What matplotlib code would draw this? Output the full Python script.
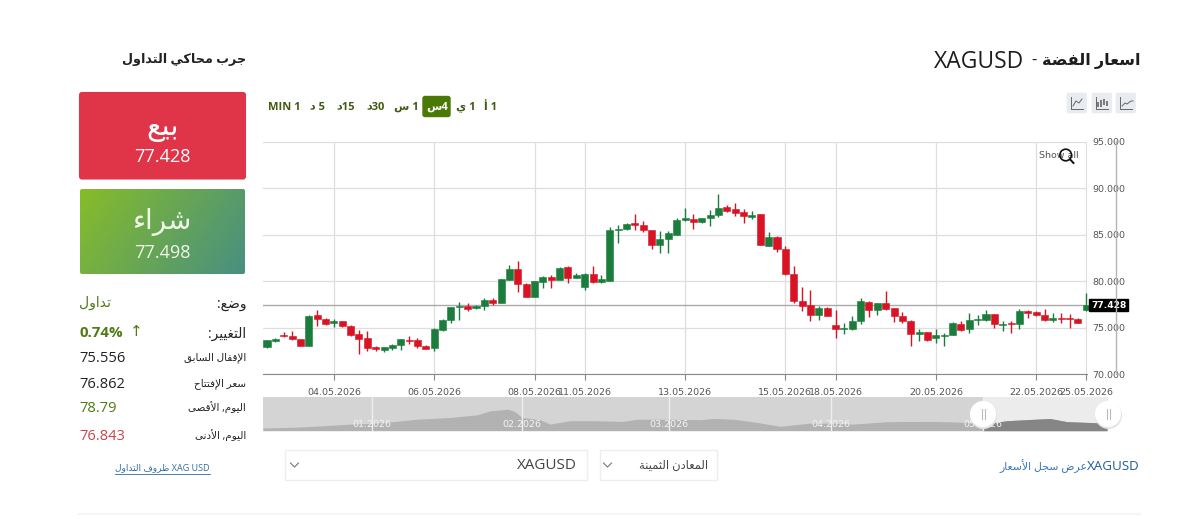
import numpy as np
import matplotlib as mpl
mpl.use('Agg')
import matplotlib.pyplot as plt
from matplotlib.patches import FancyBboxPatch, Rectangle, Circle

# 4h candles, XAGUSD
opens = [72.90, 73.62, 74.23, 74.16, 73.80, 73.04, 76.34, 75.98, 75.48, 75.70,
         75.23, 74.33, 73.90, 72.90, 72.65, 72.83, 73.12, 73.73, 73.69, 73.04,
         72.83, 74.76, 75.80, 77.20, 77.34, 77.09, 77.38, 78.02, 77.70, 80.17,
         81.28, 79.71, 78.35, 79.89, 80.46, 80.17, 81.57, 80.35, 79.42, 80.82,
         79.89, 80.07, 85.47, 85.62, 86.26, 86.05, 85.51, 83.93, 84.51, 85.01,
         86.58, 86.69, 86.37, 86.84, 87.09, 87.95, 87.77, 87.41, 86.91, 87.23,
         83.83, 84.79, 83.43, 80.82, 77.92, 77.41, 76.34, 77.13, 75.34, 74.91,
         74.84, 75.73, 77.81, 76.91, 77.67, 77.13, 76.30, 75.77, 74.37, 74.51,
         73.87, 74.12, 74.23, 75.41, 74.84, 75.84, 75.84, 76.45, 75.27, 75.55,
         75.41, 76.81, 76.70, 76.41, 75.84, 76.05, 76.02, 75.98, 76.862]
highs = [73.69, 73.87, 74.58, 74.62, 73.83, 76.38, 76.91, 76.02, 75.91, 75.77,
         75.27, 74.76, 74.66, 73.04, 72.94, 73.26, 73.83, 74.12, 73.90, 73.15,
         74.94, 75.95, 77.24, 77.81, 77.70, 77.49, 78.24, 78.24, 80.28, 81.71,
         82.14, 79.78, 80.07, 80.53, 80.67, 81.50, 81.61, 80.85, 80.85, 81.64,
         80.71, 85.80, 86.01, 86.23, 87.19, 86.48, 85.55, 85.37, 85.40, 86.80,
         87.84, 87.23, 86.84, 87.66, 89.38, 88.23, 88.45, 87.73, 87.55, 87.27,
         85.26, 84.83, 83.83, 81.64, 79.35, 79.10, 77.38, 77.20, 76.91, 75.55,
         76.27, 78.17, 77.84, 77.70, 78.92, 77.16, 76.66, 75.80, 74.91, 74.55,
         74.84, 74.41, 75.59, 75.70, 76.59, 76.34, 76.88, 76.52, 75.77, 75.77,
         77.06, 76.91, 76.84, 77.06, 76.55, 76.55, 76.48, 76.02, 78.79]
lows = [72.79, 73.47, 73.98, 73.69, 73.01, 73.01, 75.19, 75.34, 75.05, 75.05,
        74.16, 72.18, 72.54, 72.51, 72.36, 72.61, 72.61, 73.30, 72.79, 72.72,
        72.54, 74.66, 75.55, 75.80, 76.81, 77.06, 76.91, 77.45, 77.67, 80.14,
        78.81, 78.31, 78.31, 79.31, 79.24, 80.14, 79.85, 80.32, 79.06, 79.78,
        79.85, 80.03, 84.15, 85.55, 85.51, 85.30, 83.47, 83.07, 83.07, 84.94,
        86.51, 85.58, 86.30, 85.94, 86.87, 87.48, 87.05, 86.30, 86.66, 83.90,
        83.79, 83.11, 80.71, 77.70, 76.84, 75.77, 75.84, 76.23, 73.87, 74.33,
        74.80, 75.41, 76.16, 76.38, 76.91, 75.62, 75.48, 73.08, 73.62, 73.62,
        73.33, 73.08, 74.19, 74.69, 74.41, 75.30, 75.77, 74.94, 74.69, 74.41,
        74.87, 76.05, 76.27, 75.77, 75.59, 75.48, 74.98, 75.48, 76.843]
closes = [73.69, 73.76, 74.08, 73.76, 73.04, 76.27, 75.98, 75.37, 75.70, 75.19,
          74.19, 73.83, 72.83, 72.72, 72.90, 73.19, 73.80, 73.62, 73.04, 72.76,
          74.87, 75.87, 77.20, 77.34, 77.06, 77.31, 78.02, 77.63, 80.28, 81.28,
          79.71, 78.35, 80.03, 80.46, 80.17, 81.46, 80.35, 80.64, 80.82, 79.89,
          80.21, 85.51, 85.62, 86.15, 86.01, 85.47, 83.93, 84.51, 85.15, 86.62,
          86.76, 86.37, 86.76, 87.12, 87.91, 87.55, 87.37, 87.01, 87.09, 83.93,
          84.79, 83.47, 80.78, 77.88, 77.38, 76.38, 77.13, 76.27, 74.84, 75.01,
          75.77, 77.84, 76.95, 77.63, 76.98, 76.30, 75.73, 74.30, 74.55, 73.69,
          74.26, 74.23, 75.55, 74.76, 75.84, 75.98, 76.45, 75.41, 75.41, 75.44,
          76.77, 76.63, 76.38, 75.84, 76.02, 75.95, 75.91, 75.55, 77.428]

date_bars = [8, 20, 32, 38, 50, 62, 68, 80, 92, 98]
date_labels = ['04.05.2026', '06.05.2026', '08.05.2026', '11.05.2026', '13.05.2026',
               '15.05.2026', '18.05.2026', '20.05.2026', '22.05.2026', '25.05.2026']
price_ticks = [70, 75, 80, 85, 90, 95]

last_price = 77.428
buy_price = 77.498

# overview strip under the chart
nav_bars = [0, 30, 64, 87, 109, 130, 154, 187, 214, 227, 245, 252, 259, 277, 287,
            307, 330, 360, 374, 406, 437, 450, 470, 494, 517, 547, 570, 590, 624,
            670, 704, 720, 744, 787, 804, 844]
nav_prices = [38, 41, 48, 54, 57, 64, 74, 81, 92, 108, 115, 105, 81, 72, 54,
              68, 68, 65, 74, 74, 72, 77, 74, 61, 45, 58, 58, 54, 64,
              65, 61, 54, 68, 77, 64, 58]
nav_month_bars = [109, 259, 406, 568, 720]
nav_month_labels = ['01.2026', '02.2026', '03.2026', '04.2026', '05.2026']
nav_selected_from = 720

W, H = 1200, 519

ISO = {'ء': 0xFE80}
TWO = {'آ': 0xFE81, 'أ': 0xFE83, 'ؤ': 0xFE85, 'إ': 0xFE87, 'ا': 0xFE8D, 'ة': 0xFE93,
       'د': 0xFEA9, 'ذ': 0xFEAB, 'ر': 0xFEAD, 'ز': 0xFEAF, 'و': 0xFEED, 'ى': 0xFEEF}
FOUR = {'ئ': 0xFE89, 'ب': 0xFE8F, 'ت': 0xFE95, 'ث': 0xFE99, 'ج': 0xFE9D, 'ح': 0xFEA1,
        'خ': 0xFEA5, 'س': 0xFEB1, 'ش': 0xFEB5, 'ص': 0xFEB9, 'ض': 0xFEBD, 'ط': 0xFEC1,
        'ظ': 0xFEC5, 'ع': 0xFEC9, 'غ': 0xFECD, 'ف': 0xFED1, 'ق': 0xFED5, 'ك': 0xFED9,
        'ل': 0xFEDD, 'م': 0xFEE1, 'ن': 0xFEE5, 'ه': 0xFEE9, 'ي': 0xFEF1}
LAM_ALEF = {'آ': 0xFEF5, 'أ': 0xFEF7, 'إ': 0xFEF9, 'ا': 0xFEFB}


def ar(s):
    # matplotlib has no text shaping: pick presentation forms, then lay out right to left
    out = []
    i = 0
    prev_joins = False
    while i < len(s):
        c = s[i]
        if c == 'ل' and i + 1 < len(s) and s[i + 1] in LAM_ALEF:
            out.append(chr(LAM_ALEF[s[i + 1]] + (1 if prev_joins else 0)))
            prev_joins = False
            i += 2
            continue
        next_letter = i + 1 < len(s) and (s[i + 1] in TWO or s[i + 1] in FOUR or s[i + 1] in ISO)
        if c in FOUR:
            if prev_joins and next_letter:
                form = 3
            elif prev_joins:
                form = 1
            elif next_letter:
                form = 2
            else:
                form = 0
            out.append(chr(FOUR[c] + form))
            prev_joins = next_letter
        elif c in TWO:
            out.append(chr(TWO[c] + (1 if prev_joins else 0)))
            prev_joins = False
        elif c in ISO:
            out.append(chr(ISO[c]))
            prev_joins = False
        else:
            out.append(c)
            prev_joins = False
        i += 1
    return ''.join(reversed(out))


SANS = ['Open Sans', 'DejaVu Sans']
DARK = '#222222'
OLIVE = '#4f7a14'

fig = plt.figure(figsize=(W / 100, H / 100), dpi=100, facecolor='white')


def px_axes(x0, y0, x1, y1):
    return fig.add_axes([x0 / W, (H - y1) / H, (x1 - x0) / W, (y1 - y0) / H])


# page layer, in pixels
ui = fig.add_axes([0, 0, 1, 1])
ui.set_xlim(0, W)
ui.set_ylim(H, 0)
ui.axis('off')


def label(x, y, s, size=9, color=DARK, ha='right', weight='normal', zorder=5):
    return ui.text(x, y, s, fontsize=size, color=color, ha=ha, va='center',
                   family=SANS, weight=weight, zorder=zorder)


label(1024, 62, 'XAGUSD', size=16.5, color='#1d1d1d')
label(1037, 61, '-', size=12, color='#1d1d1d')
label(1140, 61, ar('اسعار الفضة'), size=11.5, weight='bold', color='#1d1d1d')
label(246, 59, ar('جرب محاكي التداول'), size=9.2, weight='bold')

# sell / buy buttons
ui.add_patch(FancyBboxPatch((80, 93), 165, 85.5, boxstyle='round,pad=0,rounding_size=2',
                            fc='#e03448', ec='#e03448', lw=1.5))
buy_box = FancyBboxPatch((80, 189), 165, 85, boxstyle='round,pad=0,rounding_size=2',
                         fc='none', ec='none')
ui.add_patch(buy_box)
gx, gy = np.meshgrid(np.linspace(0, 1, 120), np.linspace(0, 1, 60))
t = (0.75 * gx + 0.25 * gy)[..., None]
grad = (1 - t) * np.array([0.53, 0.74, 0.16]) + t * np.array([0.28, 0.56, 0.51])
img = ui.imshow(grad, extent=(79, 246, 275, 188), aspect='auto', zorder=1)
img.set_clip_path(buy_box)
ui.set_xlim(0, W)
ui.set_ylim(H, 0)

label(162.5, 127, ar('بيع'), size=21, color='white', ha='center')
label(162.5, 157, '%.3f' % last_price, size=13, color='white', ha='center')
label(162.5, 222, ar('شراء'), size=20, color='#f0f8e8', ha='center')
label(162.5, 253, '%.3f' % buy_price, size=13, color='#f0f8e8', ha='center')

# quote details
label(246, 304, ar('وضع:'), size=10)
label(79, 303, ar('تداول'), size=10, color=OLIVE, ha='left')
label(246, 334, ar('التغيير:'), size=9.8)
label(79, 333, '0.74%', size=10.8, color=OLIVE, ha='left', weight='bold')
label(130, 333, '↑', size=11, color=OLIVE, ha='left')
rows = [(358, 'الإقفال السابق', '75.556', DARK),
        (384, 'سعر الإفتتاح', '76.862', DARK),
        (408, 'اليوم, الأقصى', '78.79', OLIVE),
        (436, 'اليوم, الأدنى', '76.843', '#c9444c')]
for y, name, val, col in rows:
    label(246, y, ar(name), size=7.5)
    label(79, y, val, size=10.5, color=col, ha='left')
label(162, 468, ar('ظروف التداول') + ' XAG USD', size=6.5, color='#2e6da4', ha='center')
ui.plot([115, 210], [474, 474], color='#2e6da4', lw=0.6)

# timeframe buttons
ui.add_patch(FancyBboxPatch((423, 96.5), 27, 20, boxstyle='round,pad=0,rounding_size=2',
                            fc='#4a7a05', ec='#4a7a05', lw=1))
frames = [(284, 'MIN 1'), (318, ar('د') + ' 5'), (346, ar('د') + '15'), (376, ar('د') + '30'),
          (406, ar('س') + ' 1'), (437, ar('س') + '4'), (466, ar('ي') + ' 1'), (491, ar('أ') + ' 1')]
for x, s in frames:
    col = 'white' if s == ar('س') + '4' else '#3f5c12'
    label(x, 107, s, size=8, color=col, ha='center', weight='bold')

# chart type buttons
for x0 in [1067, 1092, 1116]:
    ui.add_patch(FancyBboxPatch((x0, 93), 19.5, 20, boxstyle='round,pad=0,rounding_size=1.5',
                                fc='#e8ebf0', ec='#e8ebf0', lw=0.5))
    ui.plot([x0 + 4, x0 + 4, x0 + 16], [97, 109, 109], color='#666666', lw=0.7)
ui.plot([1073, 1076, 1079, 1082], [106, 101, 103, 99], color='#666666', lw=0.7)
ui.vlines([1098, 1101, 1104, 1107], [102, 100, 99, 101], [107, 107, 105, 106], color='#666666', lw=1.2)
ui.plot([1122, 1125, 1127, 1131, 1133], [106, 103, 104, 101, 101], color='#666666', lw=0.7)

# dropdowns
ui.add_patch(Rectangle((284.5, 449.5), 302, 30, fc='white', ec='#eeeeee', lw=1))
ui.add_patch(Rectangle((599.5, 449.5), 117.5, 30, fc='white', ec='#eeeeee', lw=1))
label(577, 465.5, 'XAGUSD', size=11, color='#444444')
label(708, 465.5, ar('المعادن الثمينة'), size=8.3, color='#444444')
for x in [294.5, 607.5]:
    ui.plot([x - 4, x, x + 4], [463, 467, 463], color='#777777', lw=0.8)

# history link
label(1140, 466, 'XAGUSD', size=9.6, color='#1f5c99')
label(1087, 466, ar('عرض سجل الأسعار'), size=7.8, color='#3a78b5')

ui.plot([79, 1140], [514, 514], color='#f6f6f6', lw=1.5)
ui.plot([1116, 1116], [141, 374], color='#b4b4b4', lw=1)

# candles
ax = px_axes(263, 141.7, 1087, 374.3)
ax.patch.set_alpha(0)
opens_a = np.array(opens)
closes_a = np.array(closes)
bars = np.arange(len(opens))
colors = ['#1a7d3c' if c >= o else '#d81424' for o, c in zip(opens, closes)]
ax.vlines(bars, lows, highs, colors=colors, lw=1, zorder=3, clip_on=False)
ax.bar(bars, np.abs(closes_a - opens_a), bottom=np.minimum(opens_a, closes_a), width=0.84,
       color=colors, edgecolor=colors, lw=0.4, zorder=4, clip_on=False)
ax.axhline(last_price, color='#aaaaaa', lw=1, zorder=2)
ax.set_xlim(-0.478, 98.08)
ax.set_ylim(70, 95)
ax.set_xticks(date_bars, date_labels)
ax.set_yticks(price_ticks, ['%.3f' % p for p in price_ticks])
ax.yaxis.tick_right()
ax.grid(True, color='#dedede', lw=0.9, zorder=0)
ax.set_axisbelow(True)
ax.tick_params(axis='x', length=4, width=0.8, color='#888888', labelsize=6.8, labelcolor='#555555', pad=6)
ax.tick_params(axis='y', length=0, labelsize=6.8, labelcolor='#555555', pad=4)
for name in ['top', 'left', 'right']:
    ax.spines[name].set_visible(False)
ax.spines['bottom'].set_color('#888888')
ax.text(1.0048, last_price, '%.3f' % last_price, transform=ax.get_yaxis_transform(), fontsize=6.6,
        color='white', weight='bold', va='center', ha='left', zorder=6,
        bbox=dict(boxstyle='square,pad=0.16', fc='black', ec='black'))
ax.text(1039, 155, 'Show all', transform=ui.transData, fontsize=6.8, color='#555555', va='center', ha='left')
ui_lens = Circle((1065.7, 155), 5.8, fc='none', ec='#111111', lw=1.2, zorder=8)
ui.add_patch(ui_lens)
ui.plot([1069.9, 1073.5], [159.2, 163], color='#111111', lw=1.4, zorder=8)
ui.set_zorder(3)
ui.patch.set_alpha(0)

# overview strip
nav = px_axes(263, 397, 1108, 430.7)
nav.set_xlim(0, 845)
nav.set_ylim(27, 165)
nav.axis('off')
nav.axvspan(0, nav_selected_from, color='#d4d4d4', lw=0, zorder=1)
nav.axvspan(nav_selected_from, 845, color='#ececec', lw=0, zorder=1)
nav_x = np.array(nav_bars)
nav_y = np.array(nav_prices)
nav.fill_between(nav_x, 27, nav_y, color='#b2b2b2', lw=0, zorder=2)
sel = nav_x >= nav_selected_from
nav.fill_between(nav_x[sel], 27, nav_y[sel], color='#858585', lw=0, zorder=3)
for m, s in zip(nav_month_bars, nav_month_labels):
    nav.axvline(m, color='#eeeeee', lw=1, zorder=4)
    nav.text(m, 52, s, fontsize=6.8, color='#f4f4f4', ha='center', va='center', zorder=5)
for x, y in [(983, 414), (1108, 414)]:
    ui.add_patch(Circle((x + 0.5, y + 1.5), 13.5, fc='#e4e4e4', ec='none', zorder=8))
    ui.add_patch(Circle((x, y), 13, fc='white', ec='none', zorder=9))
    ui.plot([x - 1.5, x - 1.5], [409, 419], color='#bbbbbb', lw=0.8, zorder=10)
    ui.plot([x + 1.5, x + 1.5], [409, 419], color='#bbbbbb', lw=0.8, zorder=10)

plt.savefig('out.png', dpi=100, facecolor='white')
